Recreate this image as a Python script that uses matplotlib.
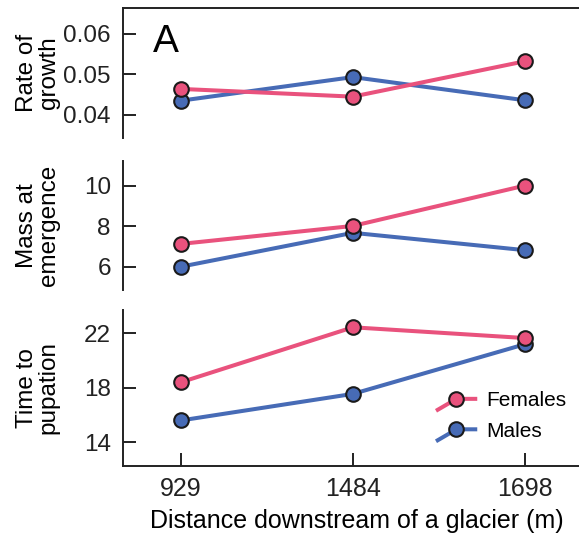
import numpy as np
import matplotlib
matplotlib.use("Agg")
import matplotlib.pyplot as plt
from matplotlib.legend_handler import HandlerLine2D
from matplotlib.lines import Line2D

plt.rcParams['font.family'] = ['Liberation Sans', 'DejaVu Sans']

# data
sites = ["929", "1484", "1698"]
growth_f = [0.0464, 0.0445, 0.0532]
growth_m = [0.0435, 0.0493, 0.0436]
mass_f = [7.13, 8.02, 10.02]
mass_m = [6.0, 7.68, 6.82]
pupa_f = [18.4, 22.44, 21.65]
pupa_m = [15.6, 17.55, 21.2]

pink = "#E9527D"
blue = "#476BB6"
fs = 17.5


class BentHandler(HandlerLine2D):
    # legend key: line rising from lower left into the marker, then flat
    def create_artists(self, legend, orig_handle, xdescent, ydescent,
                       width, height, fontsize, trans):
        x0 = -xdescent
        xm = x0 + width * 0.5
        x1 = x0 + width
        y = height / 2 - ydescent
        line = Line2D([x0, xm, x1], [y - height * 0.75, y, y],
                      color=orig_handle.get_color(),
                      lw=orig_handle.get_linewidth())
        mk = Line2D([xm], [y], marker='o', ls='none',
                    ms=orig_handle.get_markersize(),
                    mfc=orig_handle.get_markerfacecolor(),
                    mec=orig_handle.get_markeredgecolor(),
                    mew=orig_handle.get_markeredgewidth())
        line.set_transform(trans)
        mk.set_transform(trans)
        return [line, mk]


fig = plt.figure(figsize=(5.79, 5.38), dpi=100)
left, width = 0.213, 0.787
ax1 = fig.add_axes([left, 0.744, width, 0.2405])
ax2 = fig.add_axes([left, 0.461, width, 0.2403])
ax3 = fig.add_axes([left, 0.1344, width, 0.2894])

x = np.arange(len(sites))
panels = [
    (ax1, growth_f, growth_m, "Rate of\ngrowth", (0.0344, 0.0662), [0.04, 0.05, 0.06]),
    (ax2, mass_f, mass_m, "Mass at\nemergence", (4.85, 11.25), [6, 8, 10]),
    (ax3, pupa_f, pupa_m, "Time to\npupation", (12.28, 23.71), [14, 18, 22]),
]

for ax, fem, mal, lab, ylim, yt in panels:
    ax.plot(x, mal, color=blue, lw=2.9, marker='o', ms=10.5, mfc=blue,
            mec='#1a1a1a', mew=1.5, label="Males", zorder=3)
    ax.plot(x, fem, color=pink, lw=2.9, marker='o', ms=10.5, mfc=pink,
            mec='#1a1a1a', mew=1.5, label="Females", zorder=4)
    ax.set_xlim(-0.333, 2.313)
    ax.set_ylim(*ylim)
    ax.set_yticks(yt)
    if ax is ax1:
        ax.set_yticklabels(["%.2f" % v for v in yt])
    ax.set_ylabel(lab, fontsize=fs, linespacing=0.95)
    ax.yaxis.set_label_coords(-0.14, 0.5)
    ax.tick_params(axis='y', direction='in', length=9.4, width=1.4,
                   labelsize=fs, pad=9, colors='#222222')
    ax.spines['right'].set_visible(False)
    ax.spines['bottom'].set_visible(False)
    for s in ax.spines.values():
        s.set_linewidth(1.4)
        s.set_color('#222222')
    ax.set_xticks([])
    ax.set_facecolor('none')

ax2.spines['top'].set_visible(False)
ax3.spines['top'].set_visible(False)
ax3.spines['bottom'].set_visible(True)
ax3.set_xticks(x)
ax3.set_xticklabels(sites)
ax3.tick_params(axis='x', direction='in', length=9.4, width=1.4,
                labelsize=18, pad=8, colors='#222222')
ax3.set_xlabel("Distance downstream of a glacier (m)", fontsize=18)
ax3.xaxis.set_label_coords(0.512, -0.275)

ax1.text(0.064, 0.88, "A", transform=ax1.transAxes, fontsize=28,
         va='top', ha='left')

h, l = ax3.get_legend_handles_labels()
ax3.legend(h[::-1], l[::-1], handler_map={Line2D: BentHandler()},
           loc='center left', bbox_to_anchor=(0.69, 0.32), frameon=False,
           fontsize=15, handlelength=1.8, handletextpad=0.55,
           labelspacing=0.55, borderpad=0, borderaxespad=0)

fig.savefig("out.png", dpi=100, facecolor='white')
